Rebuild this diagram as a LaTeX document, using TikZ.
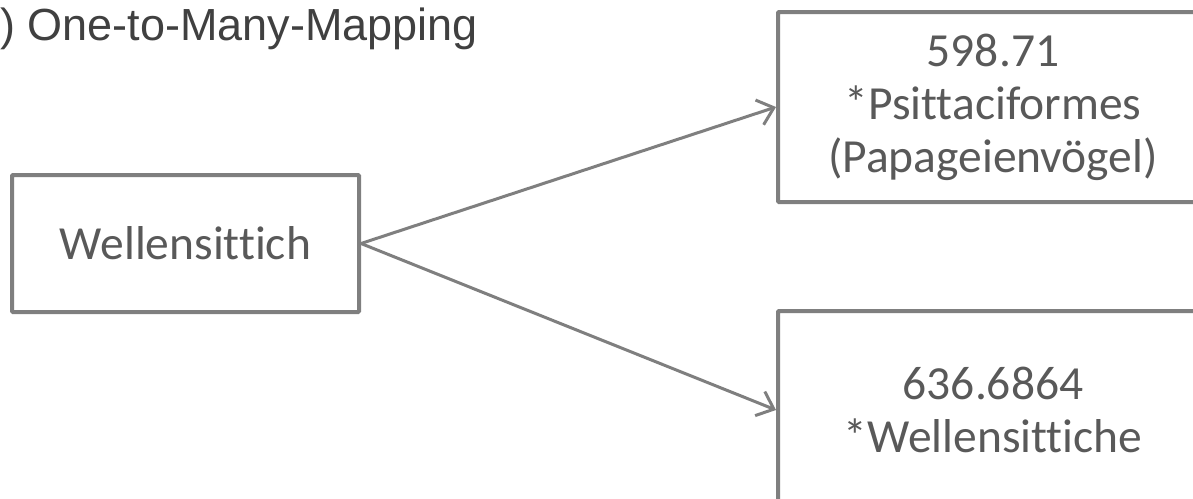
\documentclass[tikz,border=0pt]{standalone}
\usepackage{fontspec}
\setmainfont[Ligatures=NoCommon]{Carlito}
\newfontfamily\titlefont{Liberation Sans}
\usetikzlibrary{arrows.meta}
\definecolor{boxgray}{HTML}{7F7F7F}
\definecolor{txtgray}{HTML}{595959}
\definecolor{titlegray}{HTML}{404040}
\tikzset{
  box/.style={draw=boxgray, line width=4pt, fill=white, rounded corners=1pt, inner sep=0pt,
    text=txtgray, align=center, font=\fontsize{47.5}{53}\selectfont},
  conn/.style={draw=boxgray, line width=3pt, -{Straight Barb[length=15pt,width=26pt,line width=3pt]}},
}
\begin{document}
\begin{tikzpicture}[x=1pt,y=-1pt]
\useasboundingbox (0,0) rectangle (1193,498);
\clip (0,0) rectangle (1193,498);
\node[anchor=base west, inner sep=0pt, text=titlegray, font=\titlefont\fontsize{45}{54}\selectfont] (title) at (0,40) {) One-to-Many-Mapping};
\node[box, minimum width=347pt, minimum height=137pt] (lb) at (185.5,243.5) {Wellensittich};
\node[box, minimum width=430pt, minimum height=190pt] (tr) at (993,107) {\raisebox{0pt}[\height][\depth]{}598.71\\*Psittaciformes\\(Papageienvögel)};
\node[box, minimum width=430pt, minimum height=198pt] (br) at (993,410) {636.6864\\*Wellensittiche};
\draw[conn] (lb.east) -- (tr.west);
\draw[conn] (lb.east) -- (br.west);
\end{tikzpicture}
\end{document}
